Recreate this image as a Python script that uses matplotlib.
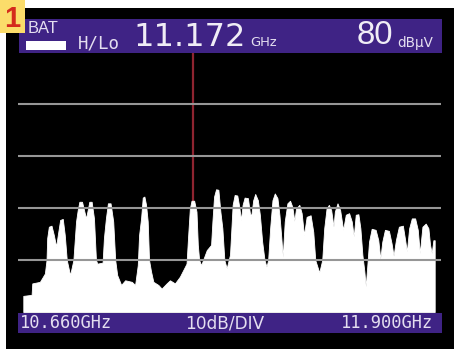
import matplotlib
matplotlib.use("Agg")
import matplotlib.pyplot as plt
from matplotlib.patches import Rectangle

START_MHZ = 10660
offset_mhz = [0,0,25,27,50,65,70,72,77,85,92,99,104,111,119,125,131,141,151,159,164,169,177,183,189,195,199,206,213,219,223,239,243,249,255,263,271,277,283,295,307,
              327,337,345,349,355,360,365,370,375,379,385,392,407,417,432,442,457,472,492,497,502,507,515,522,526,530,536,543,553,566,570,575,581,588,594,600,606,613,
              623,631,637,645,651,656,661,667,677,683,687,693,699,707,713,720,727,733,738,744,751,758,766,772,777,782,788,796,804,811,817,822,832,839,846,854,866,874,880,892,901,907,914,921,928,935,
              939,947,955,964,972,982,990,996,1002,1010,1016,1022,1028,1032,1037,1042,1050,1062,1070,1076,1082,1090,1102,1110,1116,1123,1132,1144,1151,1156,1163,1171,1181,1189,1195,1203,1213,1221,1226,1231,1236,1240,1240]
level_db = [30,33.1,33.3,35.5,35.8,37.4,40,44.2,46.4,46.6,44.8,42.6,44.8,47.7,47.9,44.8,40,37.1,40,47.4,49.6,51.2,51.2,49.6,48,49.9,51.2,51.2,48,40,39.3,39.5,44.2,48,50.9,50.9,47.4,40,37.1,35.2,36.1,
            35.8,35.2,39,44.8,48,52,52.2,50.6,47.4,40,37.8,35.8,35.2,34.5,35.5,36.1,35.5,36.8,39.3,44.8,49.9,51.4,51.4,49.3,42.9,40,39,40.2,41.9,42.9,47.4,52.2,53.6,53.5,49.3,46.1,40,38.4,
            41,50.6,52.5,52.4,50.2,47.7,50.6,52,51.9,49,48.5,51.5,52.7,51.5,48.7,43.5,40,38.7,40,46.1,51.5,52.8,51.9,48.7,44.8,40.6,47.4,50.9,51.4,50.2,47.5,49.9,50.6,49,44.8,48.3,48.6,45.4,40,37.6,40,46.1,49.9,50.6,49.6,46.4,
            49.3,50.9,49.6,45.8,48.7,49,47.4,44.5,48.7,48.8,46.1,41,37.8,34.9,39,43.5,46,45.8,43.8,40.2,43.5,45.8,45.6,43.2,40.8,43.8,46.4,46.6,43.8,41.6,46.1,48,48,45.8,41.3,46.4,47,46.1,42.9,41.3,43.8,43.8,30]
grid_db = [70, 60, 50, 40]
marker_mhz = 512
marker_top_db = 80
marker_bottom_db = 50.8
Y_MIN, Y_MAX = 30, 80

W, H = 454, 349
freqs = [START_MHZ + v for v in offset_mhz]

plt.rcParams['font.family'] = ['Liberation Sans', 'DejaVu Sans']
fig = plt.figure(figsize=(W/100, H/100), dpi=100, facecolor='white')

def box(x0, y0, x1, y1, **kw):
    fig.add_artist(Rectangle((x0/W, 1-y1/H), (x1-x0)/W, (y1-y0)/H, transform=fig.transFigure, lw=0, **kw))

def label(x, y, s, size, color='#e4def0', ha='left', **kw):
    fig.text(x/W, 1-y/H, s, fontsize=size*0.72, color=color, ha=ha, va='center', zorder=10, **kw)

box(5.5, 8, W, H, color='black', zorder=0)

ax = fig.add_axes([23.3/W, 1-312/H, (434.7-23.3)/W, 260/H], zorder=2)
ax.set_xlim(START_MHZ, START_MHZ + 1240)
ax.set_ylim(Y_MIN, Y_MAX)
ax.axis('off')
ax.vlines(START_MHZ + marker_mhz, marker_bottom_db, marker_top_db, color='#8f2430', lw=1.6, zorder=1)
ax.fill_between(freqs, level_db, Y_MIN, color='white', lw=0.6, zorder=2)
for g in grid_db:
    ax.plot([START_MHZ - 16, START_MHZ + 1258], [g, g], color='#969696', lw=1.5, clip_on=False,
            solid_capstyle='butt', zorder=3)

purple = '#3f2385'
box(19, 19, 442, 53, color=purple, zorder=5)
box(18, 313, 442, 333, color=purple, zorder=5)
box(26, 40.5, 66, 49.5, color='white', zorder=6)
box(0, 0, 25, 33, color='#fbdc6a', zorder=7)

label(4, 19, '1', 29, color='#d42a1c', fontweight='bold')
label(28, 28.5, 'BAT', 16.5, family='Liberation Sans')
label(78, 43, 'H/Lo', 17.5, family='DejaVu Sans Mono')
label(133, 37, '11.172', 32, color='#f0edf6', family='DejaVu Sans')
label(250, 43, 'GHz', 13, family='DejaVu Sans')
label(357, 36, '80', 33, color='#f0edf6', family='Liberation Sans')
label(397, 43, 'dBμV', 13.5, family='DejaVu Sans')
label(20, 323, '10.660GHz', 17, family='DejaVu Sans Mono')
label(185, 323, '10dB/DIV', 17, family='DejaVu Sans')
label(341, 323, '11.900GHz', 17, family='DejaVu Sans Mono')

fig.savefig('out.png', dpi=100, facecolor='white')
